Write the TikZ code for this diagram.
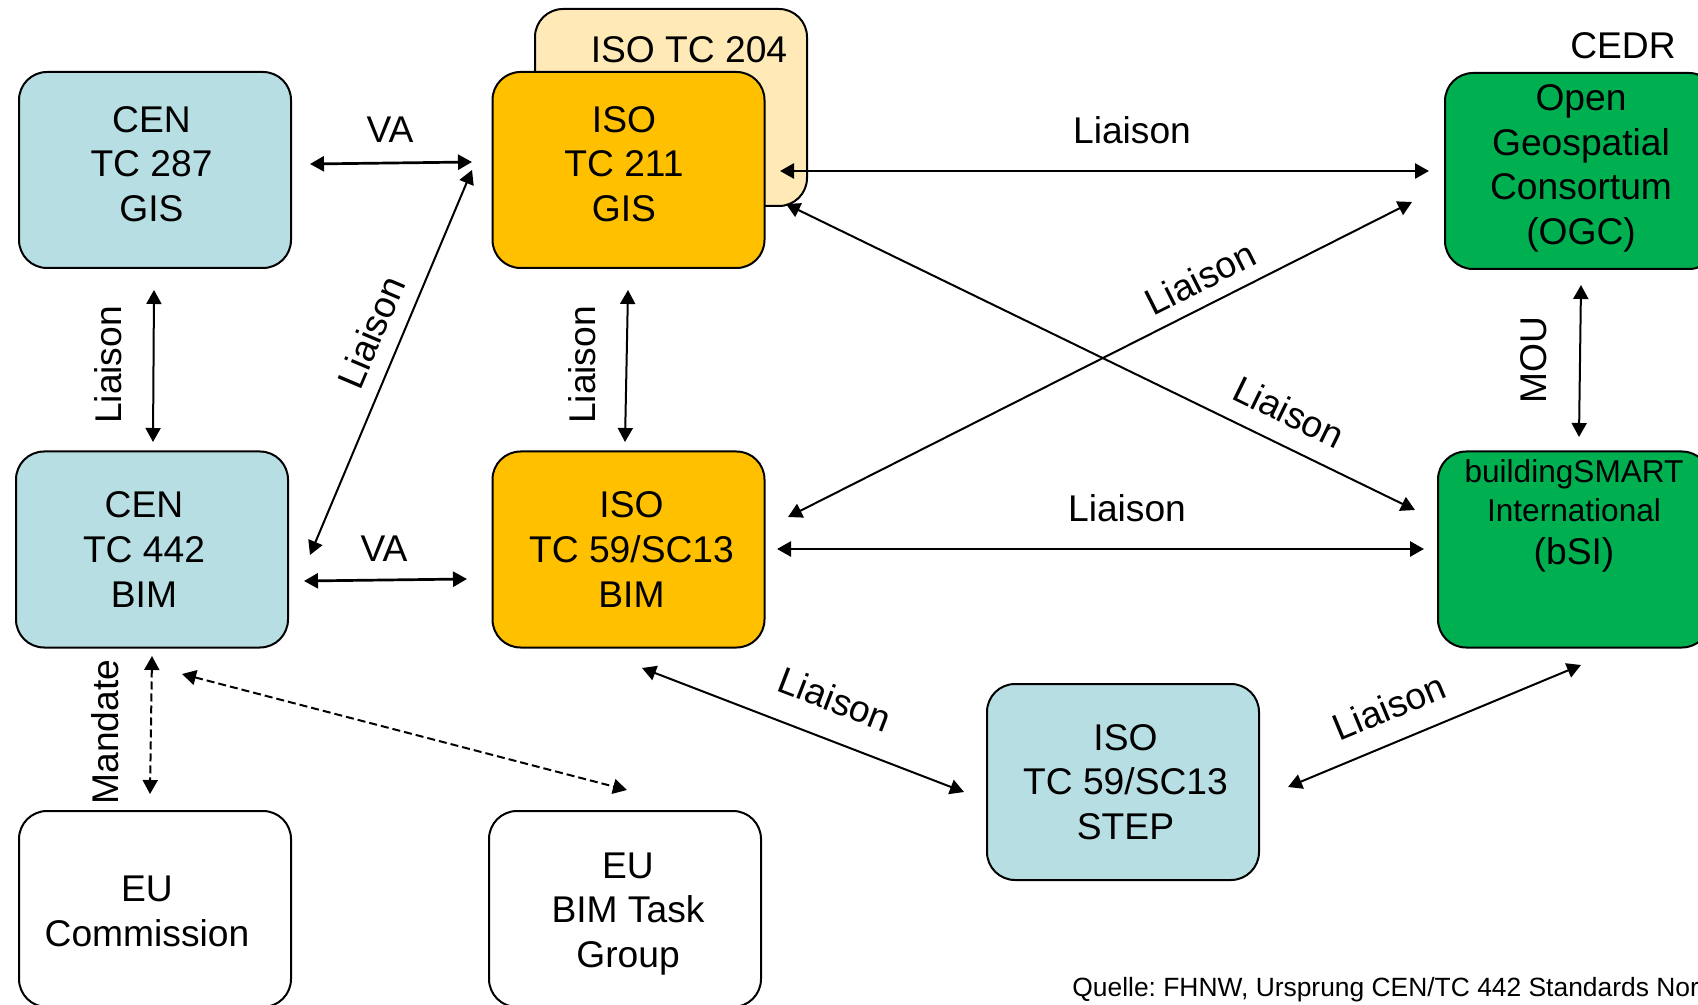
\documentclass[tikz,border=0pt]{standalone}
\usepackage{fontspec}
\setmainfont{Liberation Sans}
\usetikzlibrary{arrows.meta}
\definecolor{cenblue}{HTML}{B7DEE3}
\definecolor{isoorange}{HTML}{FFC000}
\definecolor{isolight}{HTML}{FFEAB7}
\definecolor{ogcgreen}{HTML}{00B050}
\begin{document}
\frenchspacing
\begin{tikzpicture}[x=0.5pt,y=-0.5pt,
  box/.style={draw=black, line width=1pt, rounded corners=14pt, minimum width=136pt, minimum height=98pt, inner sep=0pt},
  txt/.style={align=center, inner sep=0pt, font=\fontsize{18.6pt}{22.3pt}\selectfont},
  lbl/.style={font=\fontsize{18.6pt}{22pt}\selectfont, inner sep=0pt},
  small/.style={font=\fontsize{15.8pt}{19pt}\selectfont, inner sep=0pt},
  arr/.style={{Triangle[length=7pt,width=7.5pt]}-{Triangle[length=7pt,width=7.5pt]}, line width=1pt},
  thickarr/.style={arr, line width=1.35pt},
  dasharr/.style={arr, dash pattern=on 4pt off 2pt}]
\useasboundingbox (0,0) rectangle (1698,1005);
\clip (0,0) rectangle (1698,1005);
\fill[white] (0,0) rectangle (1698,1005);

% boxes
\node[box, fill=isolight, minimum height=98.5pt] (iso204) at (671,107.5) {};
\node[lbl] (t204) at (689,50) {ISO TC 204};
\node[box, fill=cenblue] (cen287) at (155,170) {};
\node[txt, text depth=6pt] (cen287t) at (151.5,170) {CEN\\TC 287\\GIS};
\node[box, fill=isoorange] (iso211) at (628.5,170) {};
\node[txt, text depth=6pt] (iso211t) at (624,170) {ISO\\TC 211\\GIS};
\node[box, fill=ogcgreen] (ogc) at (1581,171) {};
\node[txt, text depth=6.5pt] (ogct) at (1581,171) {Open\\Geospatial\\Consortum\\(OGC)};
\node[lbl] (cedr) at (1623,46) {CEDR};
\node[box, fill=cenblue] (cen442) at (152,549.5) {};
\node[txt] (cen442t) at (144,549.5) {CEN\\TC 442\\BIM};
\node[box, fill=isoorange] (iso59) at (628.5,549.5) {};
\node[txt] (iso59t) at (631.5,549.5) {ISO\\TC 59/SC13\\BIM};
\node[box, fill=ogcgreen] (bsi) at (1574,549.5) {};
\node[small, anchor=base] (bsi1) at (1574,483) {buildingSMART};
\node[small, anchor=base] (bsi2) at (1574,522) {International};
\node[lbl, anchor=base] (bsi3) at (1574,565) {(bSI)};
\node[box, fill=cenblue] (step) at (1123,782) {};
\node[txt] (stept) at (1125.5,782) {ISO\\TC 59/SC13\\STEP};
\node[box, fill=white] (euc) at (155,909) {};
\node[txt] (euct) at (147,911.5) {EU\\Commission};
\node[box, fill=white] (eutask) at (625,909) {};
\node[txt, text depth=0pt] (eutaskt) at (628,910) {EU\\BIM Task\\Group};

% connector end points
\coordinate (a1s) at (310,164);  \coordinate (a1e) at (472,162);
\coordinate (a2s) at (154,290);  \coordinate (a2e) at (153,442);
\coordinate (a3s) at (472,170);  \coordinate (a3e) at (310,555);
\coordinate (a4s) at (628,290);  \coordinate (a4e) at (625,442);
\coordinate (a5s) at (780,171);  \coordinate (a5e) at (1429,171);
\coordinate (a6s) at (786,204);  \coordinate (a6e) at (1415,510);
\coordinate (a7s) at (788,517);  \coordinate (a7e) at (1412,202);
\coordinate (a8s) at (777,549);  \coordinate (a8e) at (1424,549);
\coordinate (a9s) at (1581,285); \coordinate (a9e) at (1579,437);
\coordinate (a10s) at (304,581); \coordinate (a10e) at (467,579);
\coordinate (a11s) at (152,656); \coordinate (a11e) at (150,794);
\coordinate (a12s) at (182,674); \coordinate (a12e) at (627,790);
\coordinate (a13s) at (642,668); \coordinate (a13e) at (964,792);
\coordinate (a14s) at (1288,787); \coordinate (a14e) at (1581,665);

% connectors
\draw[thickarr] (a1s) -- (a1e);
\draw[arr] (a2s) -- (a2e);
\draw[arr] (a3s) -- (a3e);
\draw[arr] (a4s) -- (a4e);
\draw[thickarr] (a5s) -- (a5e);
\draw[arr] (a6s) -- (a6e);
\draw[arr] (a7s) -- (a7e);
\draw[thickarr] (a8s) -- (a8e);
\draw[arr] (a9s) -- (a9e);
\draw[thickarr] (a10s) -- (a10e);
\draw[dasharr] (a11s) -- (a11e);
\draw[dasharr] (a12s) -- (a12e);
\draw[arr] (a13s) -- (a13e);
\draw[arr] (a14s) -- (a14e);

% labels
\node[lbl] (l1) at (390,130) {VA};
\node[lbl, rotate=90] (l2) at (108,365) {Liaison};
\node[lbl, rotate=67] (l3) at (371,332) {Liaison};
\node[lbl, rotate=90] (l4) at (582,365) {Liaison};
\node[lbl] (l5) at (1132,130) {Liaison};
\node[lbl, rotate=-26] (l6) at (1289,412) {Liaison};
\node[lbl, rotate=26.7] (l7) at (1200,278) {Liaison};
\node[lbl] (l8) at (1127,508) {Liaison};
\node[lbl, rotate=90] (l9) at (1534,360) {MOU};
\node[lbl] (l10) at (384,549) {VA};
\node[lbl, rotate=90] (l11) at (105,732) {Mandate};
\node[lbl, rotate=-21] (l13) at (835,699) {Liaison};
\node[lbl, rotate=22.6] (l14) at (1389,707) {Liaison};

\node[font=\fontsize{13.2pt}{15pt}\selectfont, anchor=base west, inner sep=0pt] (src) at (1072,996) {Quelle: FHNW, Ursprung CEN/TC 442 Standards Nor};
\end{tikzpicture}
\end{document}
